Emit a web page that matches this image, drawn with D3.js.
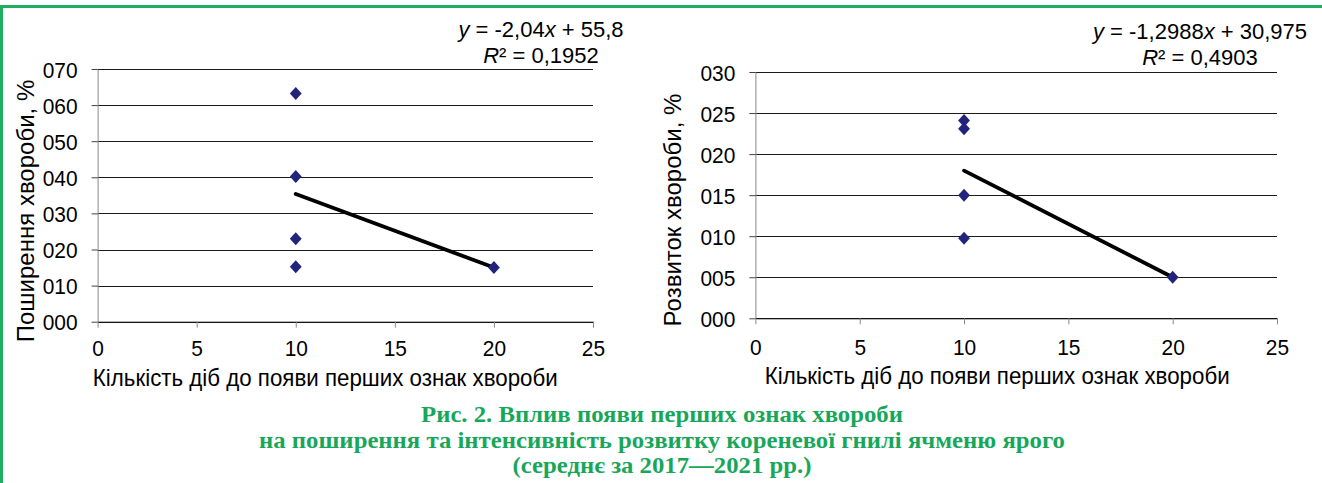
<!DOCTYPE html>
<html>
<head>
<meta charset="utf-8">
<script src="https://cdn.jsdelivr.net/npm/d3@7"></script>
<style>
  html, body { margin: 0; padding: 0; background: #fff; }
  svg text { font-family: Arial, "Liberation Sans", sans-serif; fill: #000; }
  .caption { font-family: "Times New Roman", "Liberation Serif", serif; font-weight: bold; fill: #18a75a; }
</style>
</head>
<body>
<svg id="fig" width="1322" height="483"></svg>
<script>
const xTicks = [0, 5, 10, 15, 20, 25]

// left chart: поширення
const spreadX = [10, 10, 10, 10, 20]
const spreadY = [63.2, 40.2, 23.0, 15.2, 15.0]
const spreadFit = [-2.04, 55.8]
const spreadTicks = [0, 10, 20, 30, 40, 50, 60, 70]
const spreadEq = ['-2,04', '55,8', '0,1952']

// right chart: розвиток
const devX = [10, 10, 10, 10, 20]
const devY = [24.1, 23.1, 15.0, 9.75, 5.0]
const devFit = [-1.2988, 30.975]
const devTicks = [0, 5, 10, 15, 20, 25, 30]
const devEq = ['-1,2988', '30,975', '0,4903']

const xTitle = 'Кількість діб до появи перших ознак хвороби'
const captionLines = [
  'Рис. 2. Вплив появи перших ознак хвороби',
  'на поширення та інтенсивність розвитку кореневої гнилі ячменю ярого',
  '(середнє за 2017—2021 рр.)'
]

const svg = d3.select('#fig')
const green = '#1fae5e'

// frame
svg.append('line').attr('x1', 0).attr('x2', 1322).attr('y1', 6.5).attr('y2', 6.5)
  .attr('stroke', green).attr('stroke-width', 3)
svg.append('line').attr('x1', 1.5).attr('x2', 1.5).attr('y1', 5).attr('y2', 483)
  .attr('stroke', green).attr('stroke-width', 3)

// text with horizontal squeeze
const label = (parent, x, y, sx, size, anchor) => parent.append('text')
  .attr('transform', `translate(${x},${y}) scale(${sx},1)`)
  .attr('text-anchor', anchor).attr('font-size', size)

function drawChart(opt) {
  const x = d3.scaleLinear().domain([0, 25]).range([opt.left, opt.right])
  const y = d3.scaleLinear().domain([0, d3.max(opt.ticks)]).range([opt.bottom, opt.top])
  const g = svg.append('g')
  const fmt = d3.format('03d')
  const tsx = 0.93

  // gridlines
  g.append('g').selectAll('line').data(opt.ticks).enter().append('line')
    .attr('x1', opt.left).attr('x2', opt.right)
    .attr('y1', d => Math.round(y(d)) + 0.5).attr('y2', d => Math.round(y(d)) + 0.5)
    .attr('stroke', '#1a1a1a').attr('stroke-width', 1)

  // y axis
  const yAxis = g.append('g')
    .attr('transform', `translate(${opt.left},0)`)
    .call(d3.axisLeft(y).tickValues(opt.ticks).tickFormat(fmt).tickSize(6).tickSizeOuter(0).tickPadding(14))
  yAxis.select('.domain').attr('stroke', '#888')
  yAxis.selectAll('.tick line').attr('stroke', '#444')
  yAxis.selectAll('text').attr('font-size', 22.5).attr('fill', '#000')
    .attr('transform', `scale(${tsx},1)`).attr('x', -20 / tsx).attr('dy', '0.36em')

  // x axis
  const xAxis = g.append('g')
    .attr('transform', `translate(0,${opt.bottom})`)
    .call(d3.axisBottom(x).tickValues(xTicks).tickSize(6).tickSizeOuter(0))
  xAxis.select('.domain').attr('stroke', '#111')
  xAxis.selectAll('.tick line').attr('stroke', '#888')
  xAxis.selectAll('text').attr('font-size', 22.5).attr('fill', '#000')
    .attr('transform', `scale(${tsx},1)`).attr('y', opt.xTickY).attr('dy', null)

  // trend line
  const [k, b] = opt.fit
  const tx = d3.extent(opt.xs)
  g.append('line')
    .attr('x1', x(tx[0])).attr('y1', y(k * tx[0] + b))
    .attr('x2', x(tx[1])).attr('y2', y(k * tx[1] + b))
    .attr('stroke', '#000').attr('stroke-width', 3.8).attr('stroke-linecap', 'round')

  // points
  const diamond = d3.symbol().type(d3.symbolSquare).size(70)
  g.append('g').selectAll('path').data(opt.ys).enter().append('path')
    .attr('d', diamond)
    .attr('transform', (d, i) => `translate(${x(opt.xs[i])},${y(d)}) scale(1,1.1) rotate(45)`)
    .attr('fill', '#22237a')

  // axis titles
  label(g, (opt.left + opt.right) / 2 + opt.xTitleShift, opt.xTitleY, 0.93, 24, 'middle').text(xTitle)
  g.append('text')
    .attr('transform', `translate(${opt.yTitleX},${opt.yTitleY}) rotate(-90)`)
    .attr('text-anchor', 'middle').attr('font-size', 24).text(opt.yTitle)

  // equation
  const eq = g.append('text').attr('x', opt.eqX).attr('y', opt.eqY)
    .attr('text-anchor', 'middle').attr('font-size', 22)
  eq.append('tspan').attr('font-style', 'italic').text('y')
  eq.append('tspan').text(` = ${opt.eq[0]}`)
  eq.append('tspan').attr('font-style', 'italic').text('x')
  eq.append('tspan').text(` + ${opt.eq[1]}`)
  const r2 = g.append('text').attr('x', opt.eqX).attr('y', opt.r2Y)
    .attr('text-anchor', 'middle').attr('font-size', 22)
  r2.append('tspan').attr('font-style', 'italic').text('R')
  r2.append('tspan').text(`² = ${opt.eq[2]}`)
}

drawChart({
  left: 97.6, right: 593, top: 69, bottom: 321.7,
  ticks: spreadTicks, xs: spreadX, ys: spreadY, fit: spreadFit, eq: spreadEq,
  yTitle: 'Поширення хвороби, %', yTitleX: 34, yTitleY: 211,
  xTitleShift: -20, xTitleY: 386, xTickY: 34,
  eqX: 541, eqY: 37, r2Y: 63
})

drawChart({
  left: 755.4, right: 1277, top: 72, bottom: 318.3,
  ticks: devTicks, xs: devX, ys: devY, fit: devFit, eq: devEq,
  yTitle: 'Розвиток хвороби, %', yTitleX: 681, yTitleY: 210,
  xTitleShift: -19, xTitleY: 384, xTickY: 37,
  eqX: 1200, eqY: 39, r2Y: 65
})

// caption
captionLines.forEach((line, i) => {
  svg.append('text')
    .attr('class', 'caption')
    .attr('transform', `translate(662,${422 + i * 25.5}) scale(1.1,1)`)
    .attr('text-anchor', 'middle').attr('font-size', 22.5)
    .text(line)
})
</script>
</body>
</html>
